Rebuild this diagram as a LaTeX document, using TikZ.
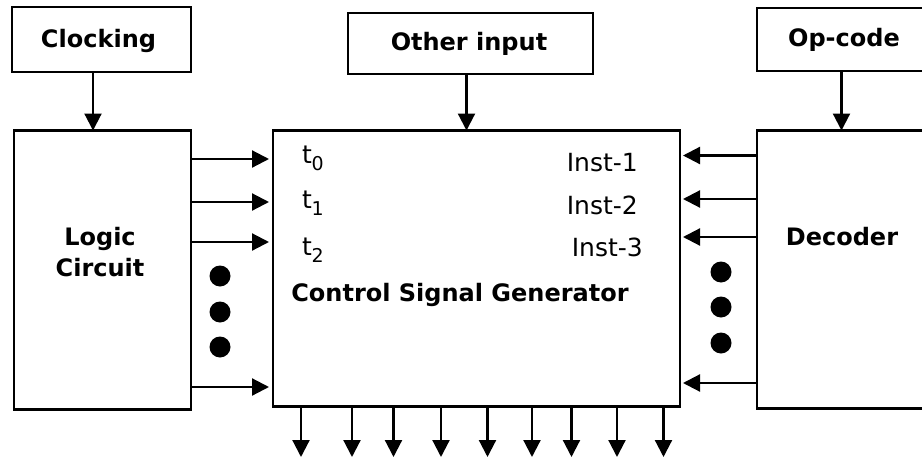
\documentclass[tikz,border=0pt]{standalone}
\usepackage{fontspec}
\setmainfont{DejaVu Sans}
\usetikzlibrary{arrows.meta}
% timing label with a lowered index
\newcommand\tlabel[1]{t\kern-0.5pt\raisebox{-0.28em}{\fontsize{19}{20}\selectfont #1}}
\begin{document}
\begin{tikzpicture}[x=1pt,y=-1pt,
  box/.style={draw, line width=2.2pt, inner sep=0pt, outer sep=0pt, anchor=north west},
  arr/.style={line width=2.2pt, -{Triangle[length=17pt,width=17pt]}},
  lbl/.style={font=\fontsize{24}{28}\selectfont\bfseries, inner sep=0pt, anchor=base},
  sig/.style={font=\fontsize{25}{28}\selectfont, inner sep=0pt},
  blob/.style={circle, fill, minimum size=21pt, inner sep=0pt}]
\useasboundingbox (0,0) rectangle (922,458);
\clip (0,0) rectangle (922,458);

% blocks
\node[box, minimum width=179pt, minimum height=65pt] (clk) at (12,7) {};
\node[box, minimum width=245pt, minimum height=61pt] (oth) at (348,13) {};
\node[box, minimum width=200pt, minimum height=63pt] (opc) at (757,8) {};
\node[box, minimum width=177pt, minimum height=279pt] (logic) at (14,130.5) {};
\node[box, minimum width=407pt, minimum height=276pt] (csg) at (273,130.5) {};
\node[box, minimum width=200pt, minimum height=278pt] (dec) at (757,130.5) {};

% block labels
\node[lbl] (tclk) at (98.5,47) {Clocking};
\node[lbl] (toth) at (469,50) {Other input};
\node[lbl] (topc) at (844,46.5) {Op-code};
\node[lbl] (tlog1) at (100,245) {Logic};
\node[lbl] (tlog2) at (100,276) {Circuit};
\node[lbl] (tdec) at (842,245) {Decoder};
\node[lbl] (tcsg) at (460,301) {Control Signal Generator};

% timing and instruction signals
\node[sig, anchor=base west] (t0) at (302,163) {\tlabel{0}};
\node[sig, anchor=base west] (t1) at (302,208) {\tlabel{1}};
\node[sig, anchor=base west] (t2) at (302,255) {\tlabel{2}};
\node[sig, anchor=base east] (i1) at (638,171) {Inst-1};
\node[sig, anchor=base east] (i2) at (638,214) {Inst-2};
\node[sig, anchor=base east] (i3) at (643,256) {Inst-3};

% downward feeds
\draw[arr] (clk.south -| 93,0) -- (logic.north -| 93,0);
\draw[arr] (oth.south -| 466.5,0) -- (csg.north -| 466.5,0);
\draw[arr] (opc.south -| 841.5,0) -- (dec.north -| 841.5,0);

% logic circuit to generator
\foreach \y in {159,202,242,387}
  \draw[arr, shorten >=4pt] (logic.east |- 0,\y) -- (csg.west |- 0,\y);

% decoder to generator
\foreach \y in {155.5,199,237,383}
  \draw[arr, shorten >=3pt] (dec.west |- 0,\y) -- (csg.east |- 0,\y);

% continuation marks
\foreach \y [count=\k] in {276,312,347}
  \node[blob] (ld\k) at (220,\y) {};
\foreach \y [count=\k] in {272,307,343}
  \node[blob] (rd\k) at (721,\y) {};

% control outputs
\foreach \x [count=\k] in {301,352,393.5,441,487.5,532,571.5,617,663.5} {
  \coordinate (out\k) at (\x,457);
  \draw[arr] (csg.south -| out\k) -- (out\k);
}
\end{tikzpicture}
\end{document}
